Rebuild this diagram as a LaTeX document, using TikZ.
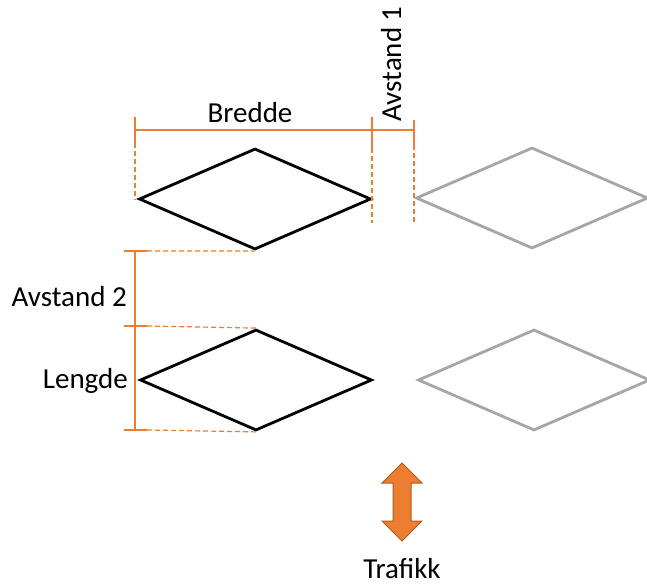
\documentclass[tikz,border=0pt]{standalone}
\usepackage{fontspec}
\setmainfont{Carlito}
\usetikzlibrary{shapes.geometric}
\definecolor{dimorange}{RGB}{237,125,49}
\definecolor{arrowedge}{RGB}{174,90,33}
\definecolor{plantgray}{RGB}{166,166,166}
\begin{document}
\begin{tikzpicture}[x=1pt, y=-1pt,
  plant/.style={shape=diamond, inner sep=0pt, minimum width=232pt, minimum height=101pt, line width=2.8pt},
  dimline/.style={draw=dimorange, line width=1.2pt},
  dimext/.style={dimline, dash pattern=on 5pt off 3pt},
  lbl/.style={font=\fontsize{29}{32}\selectfont, inner sep=0pt}]
\useasboundingbox (0,0) rectangle (647,585);
% planter
\node[plant, draw=black] (B1) at (255,199) {};
\node[plant, draw=black] (B2) at (256,380) {};
\node[plant, draw=plantgray] (G1) at (532,198) {};
\node[plant, draw=plantgray] (G2) at (534,380) {};
% bredde og avstand 1
\coordinate (bl) at (135,130);
\coordinate (br) at (372,130);
\coordinate (ar) at (414,130);
\draw [dimline] (bl) -- (br);
\draw [dimline] (br) -- (ar);
\draw [dimline] (135,117) -- (135,143);
\draw [dimline] (372,117) -- (372,148);
\draw [dimline] (414,120) -- (414,145);
\draw [dimext] (135,143) -- (135,200);
\draw [dimext] (372,148) -- (372,223);
\draw [dimext] (414,145) -- (414,223);
\node[lbl, anchor=base] (bredde) at (250,123) {Bredde};
\node[lbl, anchor=base, rotate=90] (avst1) at (401,64) {Avstand 1};
% avstand 2 og lengde
\coordinate (vt) at (135,251);
\coordinate (vm) at (135,326);
\coordinate (vb) at (135,430);
\draw [dimline] (vt) -- (vb);
\draw [dimline] (124,251) -- (147,251);
\draw [dimline] (124,326) -- (147,326);
\draw [dimline] (124,430) -- (147,430);
\draw [dimext] (147,251) -- (B1.south);
\draw [dimext] (147,326) -- (B2.north);
\draw [dimext] (147,430) -- (B2.south);
\node[lbl, anchor=east] (avst2) at (127,297) {Avstand 2};
\node[lbl, anchor=east] (lengde) at (128,381) {Lengde};
% trafikk
\draw[fill=dimorange, draw=arrowedge, line width=1pt] (402,463) -- (422,483) -- (411,483) -- (411,521) -- (422,521) -- (402,541) -- (382,521) -- (393,521) -- (393,483) -- (382,483) -- cycle;
\node[lbl, anchor=base] (trafikk) at (402,578) {Trafikk};
\end{tikzpicture}
\end{document}
